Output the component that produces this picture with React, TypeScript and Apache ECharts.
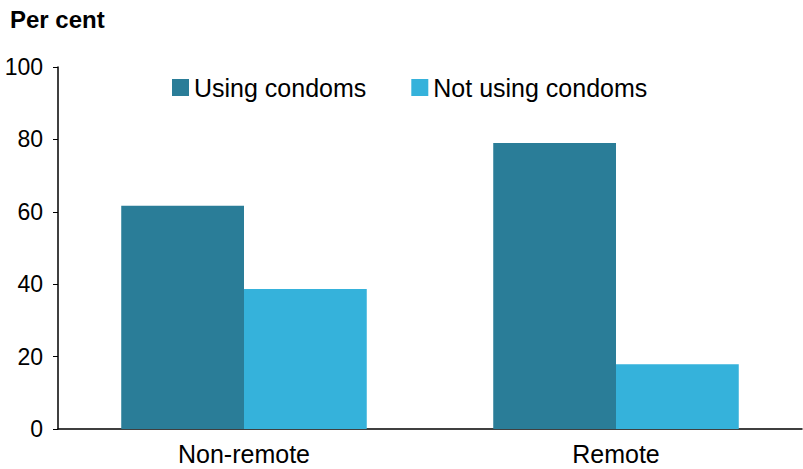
import React, { useEffect, useRef } from "react";
import * as echarts from "echarts";

const categories = ["Non-remote", "Remote"];
const usingCondoms = [61.7, 79.0];
const notUsingCondoms = [38.7, 17.9];
const seriesNames = ["Using condoms", "Not using condoms"];
const colors = ["#2A7D98", "#35B2DB"];

export default function App() {
  const ref = useRef<HTMLDivElement>(null);
  useEffect(() => {
    const chart = echarts.init(ref.current!, null, { renderer: "svg" });
    const font = "'Liberation Sans', Arial, sans-serif";
    chart.setOption({
      animation: false,
      textStyle: { fontFamily: font },
      graphic: [
        {
          type: "text",
          left: 10,
          top: 7,
          style: { text: "Per cent", font: `bold 24px ${font}`, fill: "#000" },
        },
      ],
      legend: {
        top: 70,
        left: 167,
        itemWidth: 17,
        itemHeight: 17,
        itemGap: 45,
        icon: "rect",
        textStyle: { fontSize: 25, color: "#000", fontFamily: font },
        data: seriesNames,
      },
      grid: { left: 58, right: 1, top: 67, bottom: 40, containLabel: false },
      xAxis: {
        type: "category",
        data: categories,
        axisLine: { lineStyle: { color: "#000", width: 1.5 } },
        axisTick: { show: false },
        axisLabel: { fontSize: 25, color: "#000", margin: 12, fontFamily: font },
      },
      yAxis: {
        type: "value",
        min: 0,
        max: 100,
        interval: 20,
        axisLine: { show: true, lineStyle: { color: "#000", width: 1.5 } },
        axisTick: { show: true, length: 5, lineStyle: { color: "#000" } },
        splitLine: { show: false },
        axisLabel: { fontSize: 23, color: "#000", margin: 15, fontFamily: font },
      },
      series: [
        {
          name: seriesNames[0],
          type: "bar",
          data: usingCondoms,
          itemStyle: { color: colors[0] },
          barGap: "0%",
          barCategoryGap: "34%",
        },
        {
          name: seriesNames[1],
          type: "bar",
          data: notUsingCondoms,
          itemStyle: { color: colors[1] },
          barGap: "0%",
          barCategoryGap: "34%",
        },
      ],
    });
    return () => chart.dispose();
  }, []);
  return (
    <div
      ref={ref}
      style={{ position: "absolute", left: 0, top: 0, width: 803, height: 469 }}
    />
  );
}
